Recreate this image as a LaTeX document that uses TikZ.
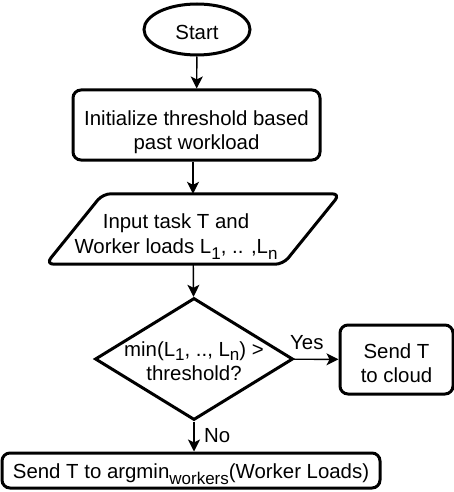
\documentclass[tikz,border=0pt]{standalone}
\usepackage{fontspec}
\setmainfont{Liberation Sans}
\usepackage{tikz}
\usetikzlibrary{shapes.geometric}
\usetikzlibrary{arrows.meta}
\usetikzlibrary{positioning}
\newcommand{\ldsub}[2][6pt]{\raisebox{-#1}{\fontsize{17}{17}\selectfont #2}}
\newcommand{\topgap}[1]{\rule{0pt}{#1}}
\tikzset{boxline/.style={draw, line width=3pt},
	box/.style={boxline, rounded corners=8pt, align=center, inner sep=0pt},
	startnode/.style={boxline, ellipse, inner sep=0pt, minimum width=106pt, minimum height=51pt},
	inputnode/.style={inner sep=0pt, minimum width=294pt, minimum height=70pt},
	decision/.style={boxline, diamond, aspect=1.62, inner sep=-6pt, align=center, minimum width=198pt, minimum height=122pt},
	flow/.style={-{Stealth[length=12pt,width=12pt,inset=3pt]}, line width=1.4pt},
	lbl/.style={inner sep=0pt}}

\begin{document}
\begin{tikzpicture}[x=1pt, y=-1pt, font=\fontsize{20.4}{24}\selectfont]

	\useasboundingbox (0,0) rectangle (454,492);

	\node[startnode] (start) at (197,29.5) {\topgap{21pt}Start};

	\node[box, minimum width=247pt, minimum height=70pt] (init) at (196.5,125) {\topgap{28.5pt}Initialize threshold based\\past workload};

	\node[inputnode] (input) at (193,229) {\raisebox{1pt}[0pt][0pt]{\begin{tabular}[t]{@{}c@{}}Input task T and\\[1pt]Worker loads L\ldsub{1}, .. ,L\ldsub{n}\end{tabular}}\kern34pt};
	\draw[boxline, rounded corners=8pt] ([xshift=57pt]input.north west) -- (input.north east) -- ([xshift=-57pt]input.south east) -- (input.south west) -- cycle;

	\node[decision] (cond) at (194,359) {\topgap{20pt}min(L\ldsub[4pt]{1}, .., L\ldsub[4pt]{n}) >\\threshold?};

	\node[box, minimum width=113pt, minimum height=69pt] (cloud) at (396.5,359.5) {\topgap{21.6pt}Send T\\to cloud};

	\node[box, minimum width=378pt, minimum height=35pt] (final) at (191,470.5) {\topgap{21.6pt}Send T to argmin\ldsub{workers}(Worker Loads)};

	\draw[flow] (start) -- (init);
	\draw[flow] (input.north |- init.south) -- (input.north);
	\draw[flow] (input) -- (cond);
	\draw[flow] (cond) -- (cloud);
	\draw[flow] (cond.south) -- (cond.south |- final.north);

	\node[lbl, anchor=base west] (yes) at (290,349) {Yes};
	\node[lbl, anchor=base west] (no) at (204,442) {No};

\end{tikzpicture}
\end{document}
